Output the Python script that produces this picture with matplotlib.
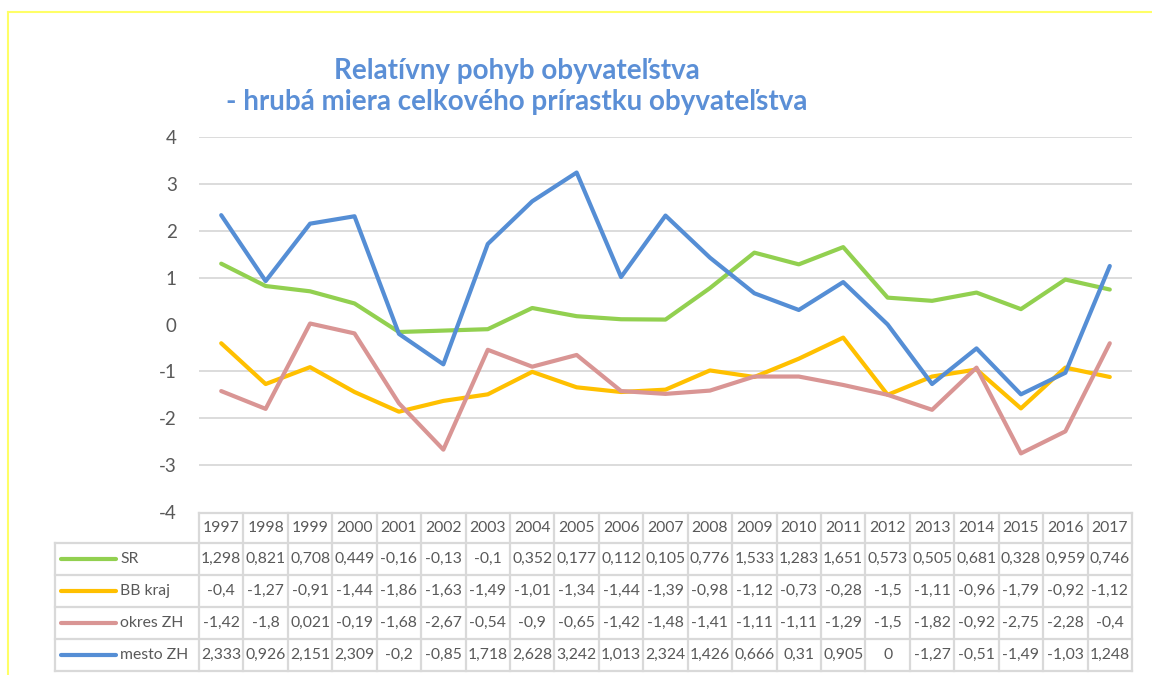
import matplotlib
matplotlib.use("Agg")
import matplotlib.pyplot as plt
from matplotlib.lines import Line2D

years = [1997, 1998, 1999, 2000, 2001, 2002, 2003, 2004, 2005, 2006, 2007,
         2008, 2009, 2010, 2011, 2012, 2013, 2014, 2015, 2016, 2017]
series_names = ["SR", "BB kraj", "okres ZH", "mesto ZH"]
sr = [1.298, 0.821, 0.708, 0.449, -0.16, -0.13, -0.1, 0.352, 0.177, 0.112, 0.105,
      0.776, 1.533, 1.283, 1.651, 0.573, 0.505, 0.681, 0.328, 0.959, 0.746]
bb_kraj = [-0.4, -1.27, -0.91, -1.44, -1.86, -1.63, -1.49, -1.01, -1.34, -1.44, -1.39,
           -0.98, -1.12, -0.73, -0.28, -1.5, -1.11, -0.96, -1.79, -0.92, -1.12]
okres_zh = [-1.42, -1.8, 0.021, -0.19, -1.68, -2.67, -0.54, -0.9, -0.65, -1.42, -1.48,
            -1.41, -1.11, -1.11, -1.29, -1.5, -1.82, -0.92, -2.75, -2.28, -0.4]
mesto_zh = [2.333, 0.926, 2.151, 2.309, -0.2, -0.85, 1.718, 2.628, 3.242, 1.013, 2.324,
            1.426, 0.666, 0.31, 0.905, 0, -1.27, -0.51, -1.49, -1.03, 1.248]
colors = ["#92D050", "#FFC000", "#D99594", "#558ED5"]
yticks = [4, 3, 2, 1, 0, -1, -2, -3, -4]
title_lines = ["Relatívny pohyb obyvateľstva", "- hrubá miera celkového prírastku obyvateľstva"]

data = [sr, bb_kraj, okres_zh, mesto_zh]

W, H = 1152, 675
FONT = "Lato"
TXT = "#595959"
GRID = "#D9D9D9"

fig = plt.figure(figsize=(W / 100, H / 100), dpi=100)
fig.patch.set_facecolor("white")

# plot area in pixels
px_l, px_r, px_t, px_b = 199, 1132, 137, 512
ax = fig.add_axes([px_l / W, 1 - px_b / H, (px_r - px_l) / W, (px_b - px_t) / H])
ax.set_xlim(-0.5, len(years) - 0.5)
ax.set_ylim(-4, 4)
for s in ax.spines.values():
    s.set_visible(False)
ax.set_xticks([])
ax.set_yticks(yticks)
ax.set_yticklabels([str(t) for t in yticks], fontsize=13.5, color=TXT, family=FONT)
ax.tick_params(axis="y", length=0, pad=16)
for t in yticks:
    if t not in (0, -4):
        ax.axhline(t, color=GRID, lw=1.3, zorder=0)

x = list(range(len(years)))
for vals, c in zip(data, colors):
    ax.plot(x, vals, color=c, lw=3.0, solid_capstyle="round", solid_joinstyle="round", zorder=3)

# title
for i, line in enumerate(title_lines):
    fig.text(517 / W, 1 - (71 + 31 * i) / H, line, ha="center", va="center",
             fontsize=20, fontweight="bold", color="#5B8FD6", family=FONT)

# overlay axes in pixel coordinates for table + border
ov = fig.add_axes([0, 0, 1, 1], zorder=-1)
ov.set_xlim(0, W)
ov.set_ylim(H, 0)
ov.axis("off")

# yellow frame (top and left edges)
ov.add_line(Line2D([8, W + 5], [12, 12], color="#FFFF66", lw=1.5))
ov.add_line(Line2D([8, 8], [12, H + 5], color="#FFFF66", lw=1.5))

col_w = (px_r - px_l) / len(years)
row_edges = [513, 543, 575, 607, 639, 671]
leg_l = 55

tab = fig.add_axes([0, 0, 1, 1])
tab.set_xlim(0, W)
tab.set_ylim(H, 0)
tab.axis("off")
bc = "#D9D9D9"
blw = 1.6
tab.add_line(Line2D([px_l, px_r], [row_edges[0], row_edges[0]], color=bc, lw=blw))
for r in row_edges[1:]:
    tab.add_line(Line2D([leg_l, px_r], [r, r], color=bc, lw=blw))
for i in range(len(years) + 1):
    xx = px_l + i * col_w
    tab.add_line(Line2D([xx, xx], [row_edges[0], row_edges[-1]], color=bc, lw=blw))
tab.add_line(Line2D([leg_l, leg_l], [row_edges[1], row_edges[-1]], color=bc, lw=blw))

def fmt(v):
    return f"{v:g}".replace(".", ",")

hy = (row_edges[0] + row_edges[1]) / 2
for i, yr in enumerate(years):
    tab.text(px_l + (i + 0.5) * col_w, hy, str(yr), ha="center", va="center",
             fontsize=11.3, color=TXT, family=FONT)
for r, (name, vals, c) in enumerate(zip(series_names, data, colors)):
    cy = (row_edges[r + 1] + row_edges[r + 2]) / 2
    tab.add_line(Line2D([61, 116], [cy, cy], color=c, lw=3.0, solid_capstyle="round"))
    tab.text(120, cy, name, ha="left", va="center", fontsize=11.3, color=TXT, family=FONT)
    for i, v in enumerate(vals):
        tab.text(px_l + (i + 0.5) * col_w, cy, fmt(v), ha="center", va="center",
                 fontsize=11.3, color=TXT, family=FONT)

fig.savefig("out.png", dpi=100)
